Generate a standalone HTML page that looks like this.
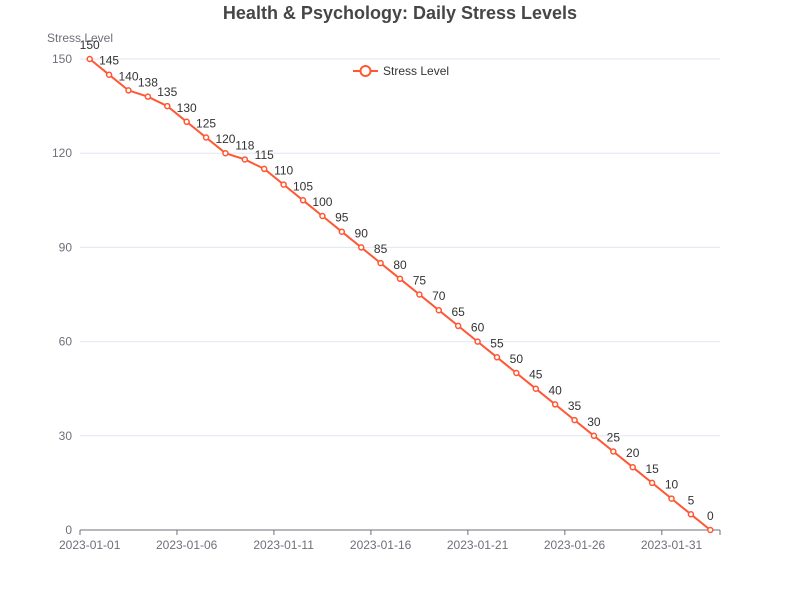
<!DOCTYPE html>
<html><head><meta charset="utf-8"><style>
html,body{margin:0;padding:0;background:#fff;}
svg{display:block;font-family:"Liberation Sans","Noto Sans CJK SC",sans-serif;}
</style></head><body>
<svg id="chart" width="800" height="600">
<text x="400" y="19" text-anchor="middle" font-size="18" font-weight="bold" fill="#464646">Health &amp; Psychology: Daily Stress Levels</text>
<text x="80" y="42" text-anchor="middle" font-size="12" fill="#6e7079">Stress Level</text>
<g id="grid"></g>
<g id="xaxis"></g>
<g id="series"></g>
<g>
<line x1="353" y1="71" x2="378" y2="71" stroke="#ff5733" stroke-width="2"/>
<circle cx="365.5" cy="71" r="5" fill="#fff" stroke="#ff5733" stroke-width="2"/>
<text x="383" y="75" font-size="12" fill="#333">Stress Level</text>
</g>
</svg>
<script>
const dates=[];for(let i=0;i<33;i++){const d=new Date(Date.UTC(2023,0,1+i));dates.push(d.toISOString().slice(0,10));}
const values=[150,145,140,138,135,130,125,120,118,115,110,105,100,95,90,85,80,75,70,65,60,55,50,45,40,35,30,25,20,15,10,5,0];
const yTicks=[0,30,60,90,120,150];
const L=80,R=720,T=59,B=530,yMax=150;
const NS="http://www.w3.org/2000/svg";
const band=(R-L)/dates.length;
const xs=i=>L+band*(i+0.5);
const ys=v=>B-(v/yMax)*(B-T);
function mk(t,a,p){const e=document.createElementNS(NS,t);for(const k in a)e.setAttribute(k,a[k]);p.appendChild(e);return e;}
const g=document.getElementById('grid');
yTicks.forEach(v=>{
 if(v>0){const l=mk('line',{x1:L,x2:R,y1:ys(v),y2:ys(v),stroke:'#e0e6f1'},g);
 
 }
 const t=mk('text',{x:L-8,y:ys(v)+4,'text-anchor':'end','font-size':12,fill:'#6e7079'},g);t.textContent=v;
 
 
});
const xa=document.getElementById('xaxis');
mk('line',{x1:L,x2:R,y1:B,y2:B,stroke:'#6e7079'},xa);
for(let i=0;i<dates.length;i+=5){
 const bx=L+band*i;
 mk('line',{x1:bx,x2:bx,y1:B,y2:B+5,stroke:'#6e7079'},xa);
 const t=mk('text',{x:xs(i),y:B+19,'text-anchor':'middle','font-size':12,fill:'#6e7079'},xa);t.textContent=dates[i];
 
 
}
mk('line',{x1:R,x2:R,y1:B,y2:B+5,stroke:'#6e7079'},xa);
const s=document.getElementById('series');
const pl=mk('polyline',{points:values.map((v,i)=>xs(i)+','+ys(v)).join(' '),fill:'none',stroke:'#ff5733','stroke-width':2},s);


values.forEach((v,i)=>{
 const c=mk('circle',{cx:xs(i),cy:ys(v),r:2.5,fill:'#fff',stroke:'#ff5733','stroke-width':1.5},s);
 
 
 const t=mk('text',{x:xs(i),y:ys(v)-10,'text-anchor':'middle','font-size':12,fill:'#333'},s);t.textContent=v;
 
 
});
</script>
</body></html>
